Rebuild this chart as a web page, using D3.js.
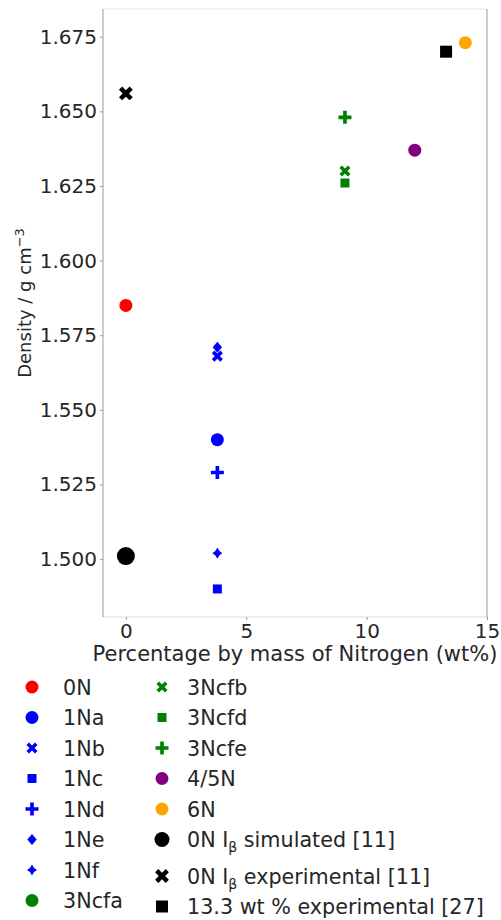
<!DOCTYPE html>
<html><head><meta charset="utf-8">
<script src="https://cdn.jsdelivr.net/npm/d3@7"></script>
<style>body{margin:0;background:#fff}svg{display:block}text{font-family:"DejaVu Sans",sans-serif;fill:#262626}</style>
</head><body><svg id="c" width="501" height="920"></svg>
<script>
const categories = ["0N","1Na","1Nb","1Nc","1Nd","1Ne","1Nf","3Ncfa","3Ncfb","3Ncfd","3Ncfe","4/5N","6N","0N Iβ simulated [11]","0N Iβ experimental [11]","13.3 wt % experimental [27]"];
const nitrogen = [0,3.8,3.8,3.8,3.8,3.8,3.8,9.1,9.1,9.1,9.1,12.0,14.1,0,0,13.3];
const density = [1.585,1.540,1.568,1.490,1.529,1.571,1.502,null,1.630,1.626,1.648,1.637,1.673,1.501,1.656,1.670];
const xTicks = [0,5,10,15];
const yTicks = [1.500,1.525,1.550,1.575,1.600,1.625,1.650,1.675];

const colors = ["#ff0000","#0000ff","#0000ff","#0000ff","#0000ff","#0000ff","#0000ff","#008000","#008000","#008000","#008000","#800080","#ffa500","#000","#000","#000"];
const shapes = ["circle","circle","x","square","plus","diamond","star","circle","x","square","plus","circle","circle","circle","x","square"];
const sizes  = [13,13,12,9,13,11,11,13,12,9,13,13,13,18,15,12];

const svg = d3.select("#c");
const m = {l:103, r:487, t:9, b:617};
const x = d3.scaleLinear().domain([-0.95,15.0]).range([m.l,m.r]);
const y = d3.scaleLinear().domain([1.4806,1.6843]).range([m.b,m.t]);

function markerPath(shape, s){
  const h = s/2, p = d3.path();
  if(shape==="circle"){ p.arc(0,0,h,0,2*Math.PI); }
  else if(shape==="square"){ p.rect(-h,-h,s,s); }
  else if(shape==="diamond"){ p.moveTo(0,-h); p.lineTo(h*0.85,0); p.lineTo(0,h); p.lineTo(-h*0.85,0); p.closePath(); }
  else if(shape==="plus"||shape==="x"){
    const w = s*(shape==="x"?0.15:0.14);
    const pts = [[-w,-h],[w,-h],[w,-w],[h,-w],[h,w],[w,w],[w,h],[-w,h],[-w,w],[-h,w],[-h,-w],[-w,-w]];
    const a = shape==="x"?Math.PI/4:0, c=Math.cos(a), sn=Math.sin(a);
    pts.forEach((q,i)=>{const X=q[0]*c-q[1]*sn, Y=q[0]*sn+q[1]*c; i?p.lineTo(X,Y):p.moveTo(X,Y);});
    p.closePath();
  }
  else if(shape==="star"){
    const k = h*0.38;
    p.moveTo(0,-h); p.lineTo(k,-k); p.lineTo(h*0.9,0); p.lineTo(k,k); p.lineTo(0,h); p.lineTo(-k,k); p.lineTo(-h*0.9,0); p.lineTo(-k,-k); p.closePath();
  }
  return p.toString();
}

// frame
svg.append("line").attr("x1",m.l).attr("x2",m.r).attr("y1",m.t).attr("y2",m.t).attr("stroke","#e6e6e6");
svg.append("line").attr("x1",m.l).attr("x2",m.r).attr("y1",m.b).attr("y2",m.b).attr("stroke","#dcdcdc");
svg.append("line").attr("x1",m.l).attr("x2",m.l).attr("y1",m.t).attr("y2",m.b).attr("stroke","#999");
svg.append("line").attr("x1",m.r).attr("x2",m.r).attr("y1",m.t).attr("y2",m.b).attr("stroke","#999");

// axes
const ya = svg.append("g").attr("transform",`translate(${m.l},0)`)
  .call(d3.axisLeft(y).tickValues(yTicks).tickFormat(d3.format(".3f")).tickSize(3).tickPadding(3));
const xa = svg.append("g").attr("transform",`translate(0,${m.b})`)
  .call(d3.axisBottom(x).tickValues(xTicks).tickFormat(d3.format("d")).tickSize(3).tickPadding(4));
[ya,xa].forEach(g=>{g.select(".domain").remove();g.selectAll(".tick line").attr("stroke","#999");
  g.selectAll(".tick text").attr("font-size",20).attr("fill","#262626").attr("font-family","DejaVu Sans");});

// axis labels
svg.append("text").attr("x",(m.l+m.r)/2).attr("y",661).attr("text-anchor","middle").attr("font-size",21)
  .text("Percentage by mass of Nitrogen (wt%)");
const yl = svg.append("text").attr("transform",`translate(31,303) rotate(-90)`).attr("text-anchor","middle").attr("font-size",18);
yl.append("tspan").text("Density / g cm");
yl.append("tspan").attr("dy",-7).attr("font-size",13).text("−3");

// points
const pts = categories.map((c,i)=>({c,i,xv:nitrogen[i],yv:density[i]})).filter(d=>d.yv!==null);
svg.append("g").selectAll("path").data(pts).join("path")
  .attr("transform",d=>`translate(${x(d.xv)},${y(d.yv)})`)
  .attr("d",d=>markerPath(shapes[d.i],sizes[d.i])).attr("fill",d=>colors[d.i]);

// legend
const lg = svg.append("g");
const col1 = {mx:32, tx:63}, col2 = {mx:162, tx:187};
let yy = 687, prevSub=false;
categories.forEach((c,i)=>{
  const col = i<8?col1:col2;
  if(i===8){ yy=687; prevSub=false; }
  const sub = c.includes("Iβ");
  if(i!==0 && i!==8) yy += 30.5 + (sub && prevSub ? 6 : 0);
  prevSub = sub;
  const s = shapes[i]==="circle" && sizes[i]>13 ? 15 : sizes[i];
  lg.append("path").attr("transform",`translate(${col.mx},${yy})`).attr("d",markerPath(shapes[i],s)).attr("fill",colors[i]);
  const t = lg.append("text").attr("x",col.tx).attr("y",yy+7.5).attr("font-size",20.7);
  if(sub){
    const parts = c.split("β");
    t.append("tspan").text(parts[0]);
    t.append("tspan").attr("dy",5).attr("font-size",14).text("β");
    t.append("tspan").attr("dy",-5).text(parts[1]);
  } else t.text(c);
});
</script></body></html>
